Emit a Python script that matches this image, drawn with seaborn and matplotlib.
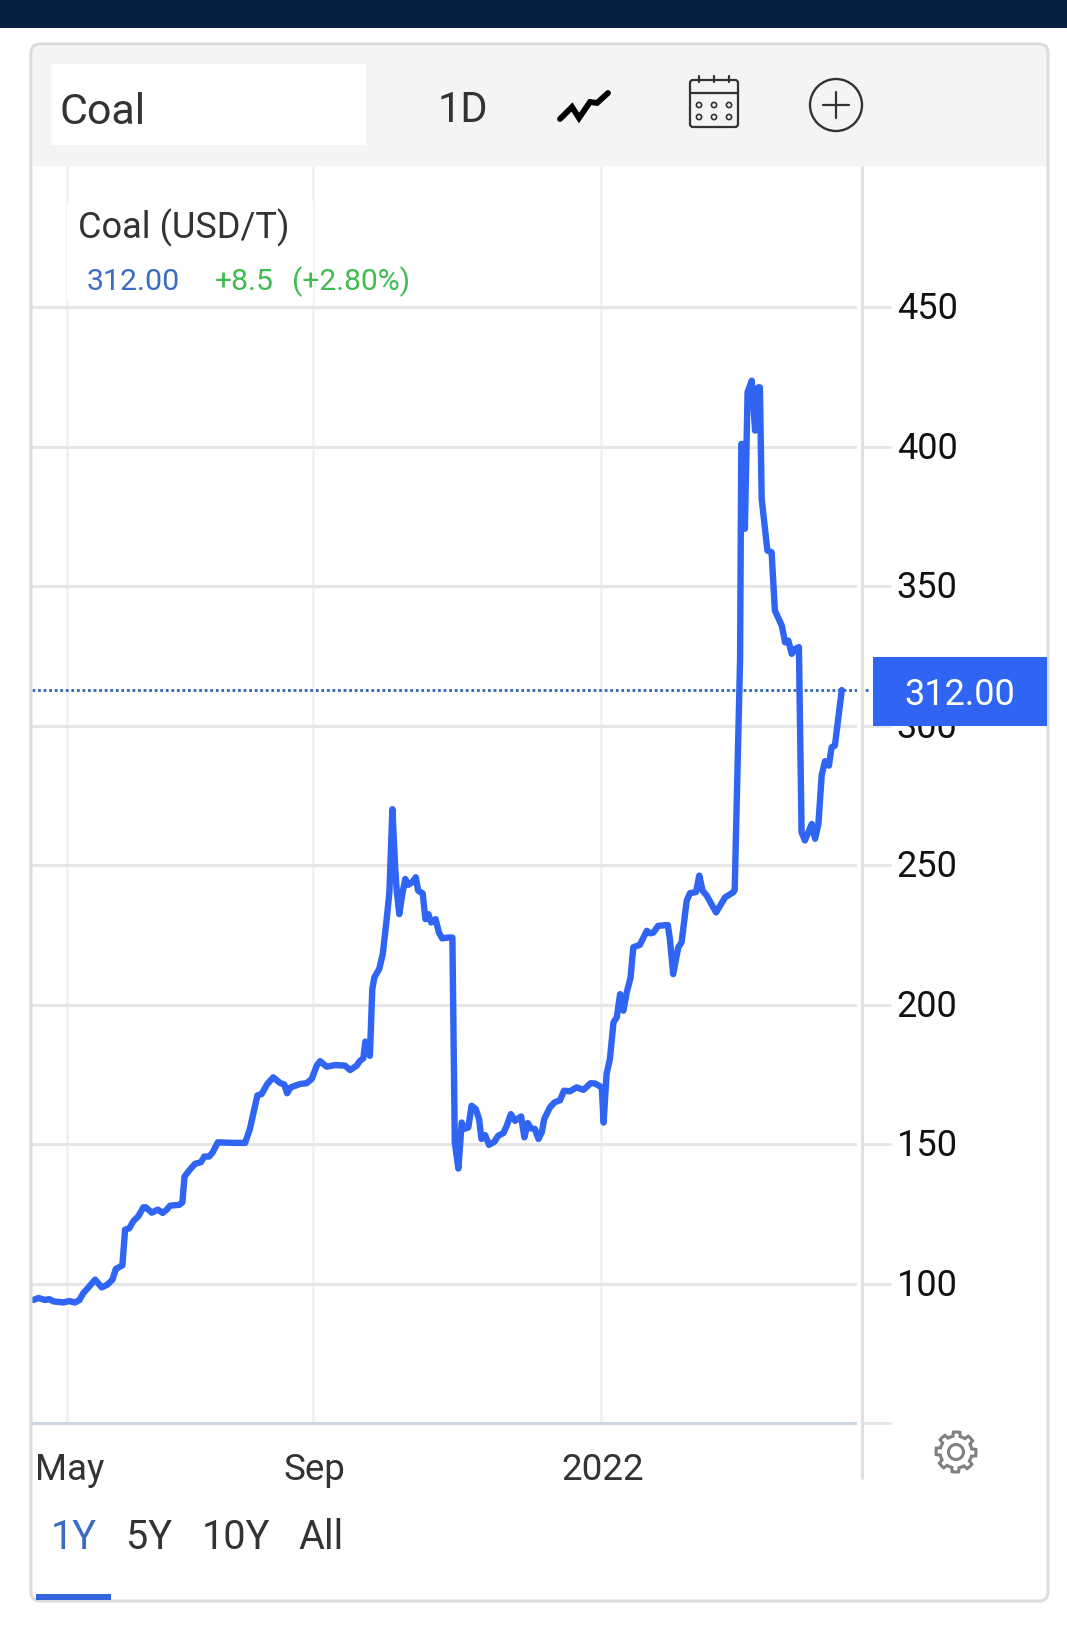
import numpy as np
import matplotlib
matplotlib.use("Agg")
import matplotlib.pyplot as plt
from matplotlib.patches import Rectangle, FancyBboxPatch, Circle, Polygon
from matplotlib.transforms import ScaledTranslation
import seaborn as sns

session = [-11.4, -9.7, -7.5, -6.1, -4.7, -1.4, 0.5, 2.5, 4.0, 5.3, 7.0, 9.2, 11.4, 13.3, 15.0, 16.1, 18.3,
           19.2, 20.6, 22.0, 23.6, 25.3, 26.1, 28.1, 30.1, 31.7, 33.1, 34.2, 37.3, 38.3, 39.0, 40.8, 42.5,
           44.5, 45.6, 47.2, 48.4, 50.1, 55.3, 59.2, 60.8, 63.3, 64.7, 66.6, 68.6, 70.8, 72.3, 73.2, 74.4,
           77.5, 79.7, 81.4, 83.1, 84.2, 86.4, 89.2, 92.5, 94.2, 96.4, 97.5, 98.6, 99.3, 99.9, 100.8, 101.6,
           102.3, 103.9, 105.1, 106.4, 107.3, 108.3, 109.2, 109.7, 110.6, 111.7, 112.6, 113.6, 114.9, 116.1,
           116.9, 118.4, 119.3, 120.3, 121.2, 122.7, 123.8, 124.9, 126.9, 128.3, 129.1, 130.3, 131.4, 132.2,
           133.6, 134.7, 136.1, 137.2, 138.0, 139.2, 140.5, 142.3, 143.6, 145.3, 146.4, 147.8, 149.2, 151.2,
           152.3, 153.4, 154.5, 155.8, 157.0, 158.1, 158.9, 160.8, 162.3, 164.2, 165.5, 167.5, 169.7, 172.0,
           174.4, 175.8, 178.1, 178.7, 179.7, 180.8, 182.0, 183.1, 184.2, 185.3, 186.4, 187.7, 188.6, 190.8,
           193.1, 194.2, 195.3, 196.9, 200.1, 200.8, 201.9, 203.6, 204.7, 206.4, 207.5, 209.5, 210.6, 211.7,
           213.1, 216.2, 219.2, 221.9, 222.4, 224.2, 224.6, 225.3, 225.8, 226.7, 228.1, 229.2, 230.3, 230.8,
           231.4, 233.3, 234.7, 235.8, 238.1, 239.2, 240.3, 241.4, 242.5, 243.8, 244.7, 245.8, 248.1, 249.2,
           250.3, 251.4, 252.5, 253.8, 254.7, 255.8, 258.1]
price = [94.1, 94.8, 94.1, 94.4, 93.6, 93.2, 93.7, 93.2, 94.1, 96.6, 98.6, 101.4, 98.6, 99.6, 101.4, 105.2, 106.5,
         119.3, 119.8, 122.4, 124.1, 127.3, 127.3, 125.4, 126.5, 125.3, 126.5, 127.9, 128.2, 129.1, 138.3, 140.8, 142.9,
         143.5, 145.5, 145.5, 147.0, 150.6, 150.4, 150.4, 155.4, 167.4, 167.9, 171.5, 173.9, 171.9, 171.3, 168.2, 170.3,
         171.5, 171.8, 173.3, 178.1, 179.7, 177.7, 178.3, 178.1, 176.5, 178.1, 179.8, 180.7, 186.7, 183.4, 181.6, 205.5,
         209.7, 212.7, 218.1, 230.6, 240.2, 270.0, 249.7, 241.4, 232.4, 240.2, 245.0, 242.9, 243.8, 245.6,
         240.8, 239.8, 230.6, 232.4, 229.4, 230.6, 225.8, 223.7, 224.0, 224.0, 150.6, 141.2, 157.7, 155.4,
         155.9, 163.7, 162.5, 158.9, 151.8, 153.2, 149.7, 150.8, 153.0, 153.9, 156.5, 160.7, 158.3, 159.9,
         152.4, 157.5, 155.6, 155.4, 151.8, 154.2, 158.9, 163.1, 164.9, 165.7, 169.1, 168.9, 170.3, 169.4,
         171.8, 171.7, 170.3, 157.7, 175.1, 180.4, 193.6, 195.4, 203.7, 197.8, 204.3, 209.7, 220.5, 221.4,
         226.4, 225.5, 225.8, 228.2, 228.5, 223.5, 210.9, 220.5, 222.3, 237.2, 239.9, 240.3, 246.2, 240.8,
         239.0, 233.0, 238.4, 240.2, 241.0, 323.9, 400.9, 400.9, 370.5, 419.5, 423.6, 405.7, 421.2, 421.2,
         381.2, 362.7, 362.1, 341.2, 335.8, 329.8, 330.4, 325.7, 327.4, 328.1, 261.7, 258.8, 264.7, 259.4,
         264.7, 282.1, 287.2, 285.6, 292.2, 292.8, 312.7]

last_level = 312.7
y_ticks = [50, 100, 150, 200, 250, 300, 350, 400, 450]
y_labels = ['', '100', '150', '200', '250', '300', '350', '400', '450']
x_ticks = [0, 81.8, 177.8]
x_labels = ['May', 'Sep', '2022']
tabs = ['1Y', '5Y', '10Y', 'All']

BLUE = '#2f65f2'
W, H = 1067, 1631

sns.set_theme(style='white')
plt.rcParams['font.family'] = ['Roboto', 'DejaVu Sans']

fig = plt.figure(figsize=(W / 100, H / 100), dpi=100, facecolor='white')
ax = fig.add_axes([32 / W, (H - 1424) / H, 825 / W, 1258 / H])

sns.lineplot(x=session, y=price, ax=ax, color=BLUE, linewidth=4.6, sort=False, estimator=None,
             errorbar=None, solid_joinstyle='round', solid_capstyle='round', zorder=3)

ax.set_xlim(-11.83, 263.17)
ax.set_ylim(50, 500.9)
ax.set_yticks(y_ticks)
ax.set_yticklabels(y_labels)
ax.set_xticks(x_ticks)
ax.set_xticklabels(x_labels)
ax.yaxis.tick_right()
ax.tick_params(axis='y', length=24.5, width=2.2, color='#e6e6e6', labelsize=26, labelcolor='#111111', pad=4)
ax.tick_params(axis='x', length=0, labelsize=26.5, labelcolor='#333333', pad=20)
for lab in ax.get_yticklabels():
    lab.set_transform(lab.get_transform() + ScaledTranslation(0, 3 / 100, fig.dpi_scale_trans))
for lab in ax.get_xticklabels():
    lab.set_transform(lab.get_transform() + ScaledTranslation(2 / 100, 0, fig.dpi_scale_trans))
ax.grid(axis='y', color='#e6e6e6', linewidth=2.2)
ax.grid(axis='x', color='#edf2f6', linewidth=1.9)
ax.set_axisbelow(True)
for side in ['top', 'left', 'right']:
    ax.spines[side].set_visible(False)
ax.spines['bottom'].set_color('#ccd6e3')
ax.spines['bottom'].set_linewidth(2.2)

# last price line
ax.axhline(last_level, xmax=1.0158, color='#2f65b8', linewidth=2, linestyle=(0, (1, 1)), clip_on=False, zorder=2)

# page furniture, in pixels
ui = fig.add_axes([0, 0, 1, 1], zorder=5)
ui.set_xlim(0, W)
ui.set_ylim(H, 0)
ui.axis('off')
ui.patch.set_alpha(0)

ui.add_patch(Rectangle((0, 0), W, 29, color='#0a1f44', lw=0))
ui.add_patch(Rectangle((33, 47), 1014, 120, color='#f4f4f4', lw=0))
ui.add_patch(FancyBboxPatch((38, 52), 1003, 1543, boxstyle='round,pad=7,rounding_size=9', fc='none',
                            ec='#dcdcdc', lw=2.2))
ui.add_patch(Rectangle((51, 65), 315, 81, color='white', lw=0))
ui.add_patch(Rectangle((67, 203), 246, 100, color='white', lw=0))
ui.add_patch(Rectangle((857, 300), 4, 1130, color='white', lw=0))
ui.plot([862, 862], [167, 1480], color='#e0e0e0', lw=2.2, solid_capstyle='butt')

ui.text(60, 113, 'Coal', fontsize=31, color='#333333', va='center')
ui.text(463, 110, '1D', fontsize=30, color='#333333', va='center', ha='center')
ui.text(78, 228, 'Coal (USD/T)', fontsize=26, color='#333333', va='center')
ui.text(87, 282, '312.00', fontsize=21.8, color='#3a6bc5', va='center')
ui.text(215, 282, '+8.5', fontsize=21.8, color='#3fbb50', va='center')
ui.text(292, 282, '(+2.80%)', fontsize=21.6, color='#3fbb50', va='center')

# chart type icon
ui.plot([560, 572, 579, 590, 597, 608], [120, 108, 119, 103, 104, 94], color='black', lw=4.2,
        solid_joinstyle='miter')
# calendar icon
ui.add_patch(FancyBboxPatch((690, 81), 48, 47, boxstyle='round,pad=0,rounding_size=3', fc='none',
                            ec='#333333', lw=1.6))
ui.plot([690, 738], [94, 94], color='#333333', lw=1.6)
for cx in [699, 714, 729]:
    ui.plot([cx, cx], [77, 83], color='#333333', lw=1.6)
    for cy in [106, 118]:
        ui.add_patch(Circle((cx, cy), 2.6, fc='none', ec='#333333', lw=1.2))
# add icon
ui.add_patch(Circle((836, 106), 26, fc='none', ec='#333333', lw=1.7))
ui.plot([823, 849], [106, 106], color='#333333', lw=1.6)
ui.plot([836, 836], [93, 119], color='#333333', lw=1.6)

# last price tag
ui.add_patch(Rectangle((873, 658), 174, 69, color=BLUE, lw=0))
ui.text(960, 695, '312.00', fontsize=26, color='white', ha='center', va='center')

# gear icon
angles = np.linspace(0, 2 * np.pi, 97)
radius = 20 - 4 * (np.cos(8 * angles) < 0)
ui.add_patch(Polygon(np.c_[956 + radius * np.cos(angles), 1453 + radius * np.sin(angles)], fc='none',
                     ec='#808080', lw=2.2))
ui.add_patch(Circle((956, 1453), 7.5, fc='none', ec='#808080', lw=2.2))

# range tabs
for label, x, color in zip(tabs, [74, 149, 236, 321], ['#3a6bc5', '#333333', '#333333', '#333333']):
    ui.text(x, 1549, label, fontsize=28.5, color=color, ha='center', va='baseline')
ui.add_patch(Rectangle((36, 1595), 75, 6, color='#3366dd', lw=0))

fig.savefig('out.png', dpi=100)
